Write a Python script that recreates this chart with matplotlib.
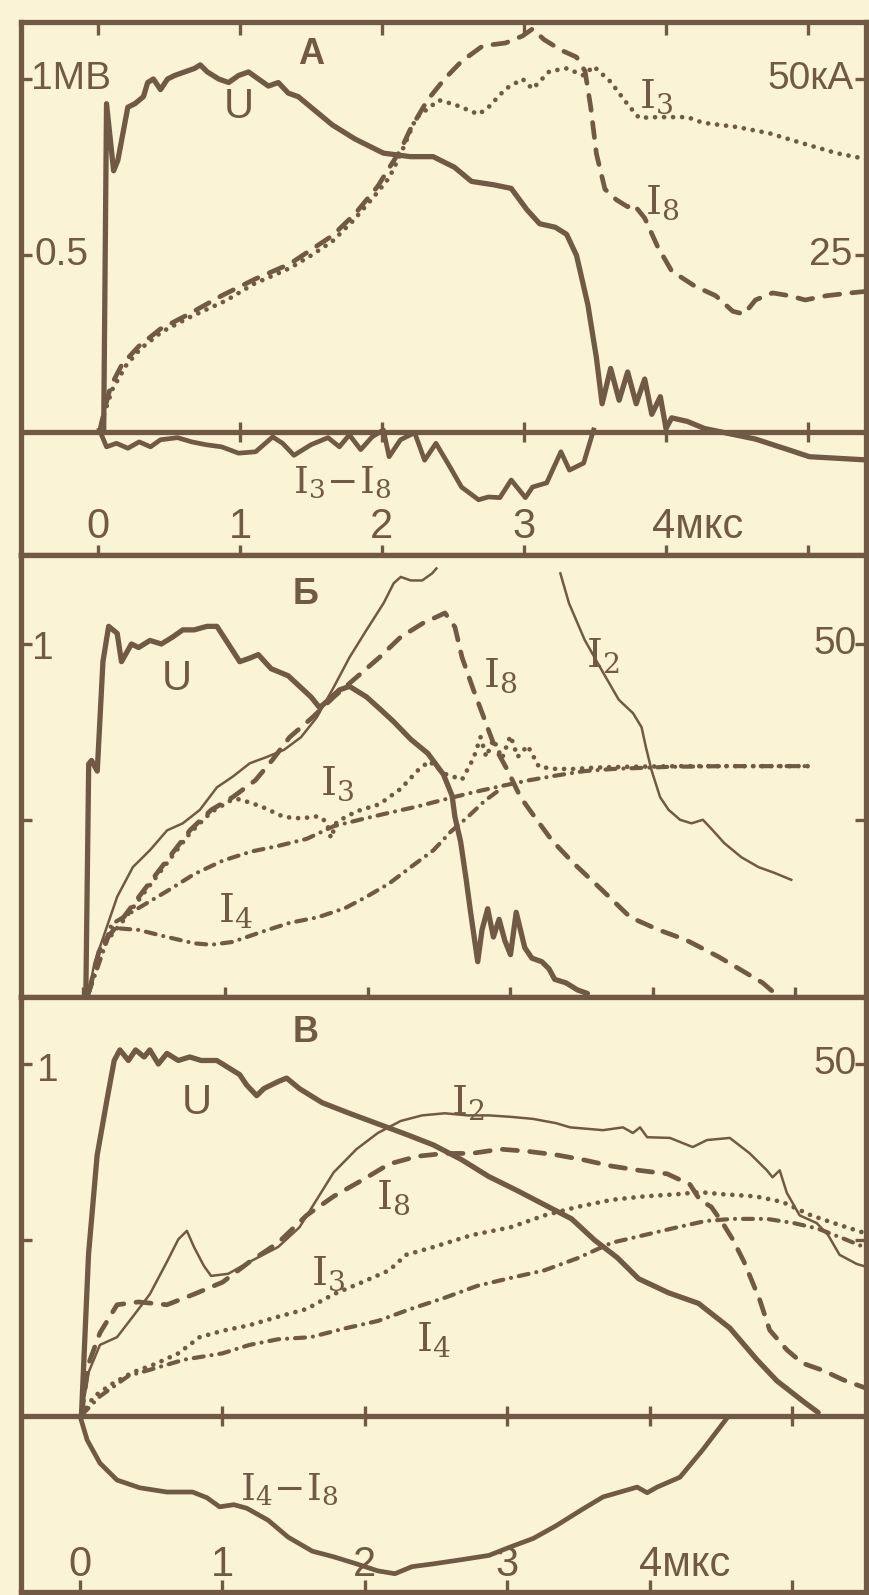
import matplotlib
matplotlib.use("Agg")
import matplotlib.pyplot as plt

INK = "#705a45"
PAPER = "#fbf3d6"
plt.rcParams["font.family"] = ["Liberation Sans", "DejaVu Sans"]
plt.rcParams["mathtext.fontset"] = "dejavuserif"

KA_PER_MV = 50.0          # right scale: 50 kA sits level with 1 MV
TICKS = [0, 1, 2, 3, 4, 5]

# ---------------------------------------------------------------- panel A
# (t, µs ; U, MV)
A_U = [(0.00, 0.00), (0.04, 0.00), (0.06, 0.93), (0.11, 0.74), (0.14, 0.77), (0.21, 0.92),
       (0.26, 0.93), (0.32, 0.95), (0.35, 0.99), (0.39, 1.00), (0.44, 0.97), (0.49, 1.00),
       (0.54, 1.01), (0.61, 1.02), (0.68, 1.03), (0.72, 1.04), (0.77, 1.02), (0.85, 1.00),
       (0.92, 0.99), (0.99, 1.01), (1.06, 1.02), (1.13, 1.00), (1.20, 0.98), (1.27, 0.99),
       (1.34, 0.96), (1.41, 0.95), (1.50, 0.92), (1.65, 0.87), (1.81, 0.83), (2.01, 0.79),
       (2.20, 0.78), (2.36, 0.78), (2.51, 0.75), (2.63, 0.71), (2.79, 0.70), (2.91, 0.69),
       (3.02, 0.63), (3.11, 0.59), (3.22, 0.58), (3.30, 0.56), (3.37, 0.50), (3.45, 0.36),
       (3.51, 0.21), (3.55, 0.08), (3.61, 0.18), (3.67, 0.09), (3.73, 0.17), (3.79, 0.08),
       (3.85, 0.15), (3.90, 0.05), (3.96, 0.10), (4.00, 0.01), (4.04, 0.04), (4.15, 0.03),
       (4.27, 0.01), (4.39, 0.00), (4.63, -0.02), (4.86, -0.05), (5.01, -0.07), (5.45, -0.08)]
# currents, kA
A_I8 = [(0.01, 0.0), (0.05, 3.5), (0.09, 6.5), (0.17, 9.6), (0.29, 12.2), (0.44, 14.6),
        (0.64, 16.7), (0.87, 19.3), (1.11, 21.7), (1.35, 23.8), (1.50, 25.8), (1.65, 27.8),
        (1.81, 30.9), (1.97, 34.8), (2.05, 37.4), (2.13, 39.9), (2.20, 42.9), (2.32, 47.0),
        (2.44, 50.0), (2.56, 52.5), (2.71, 54.7), (2.87, 55.1), (2.99, 56.1), (3.06, 57.1),
        (3.14, 55.6), (3.26, 54.1), (3.37, 53.1), (3.43, 51.1), (3.47, 46.0), (3.51, 39.4),
        (3.57, 34.4), (3.65, 32.9), (3.73, 31.9), (3.77, 32.3), (3.85, 30.3), (3.94, 26.3),
        (4.04, 22.8), (4.20, 20.7), (4.35, 19.3), (4.47, 17.1), (4.55, 16.7), (4.63, 18.7),
        (4.75, 19.7), (4.87, 19.3), (4.98, 18.7), (5.13, 19.3), (5.30, 19.7), (5.45, 20.0)]
A_I3 = [(0.01, 0.0), (0.05, 3.0), (0.10, 6.0), (0.20, 9.5), (0.30, 11.8), (0.45, 14.2),
        (0.65, 16.3), (0.90, 18.6), (1.10, 21.0), (1.35, 23.2), (1.50, 25.0), (1.65, 27.0),
        (1.80, 30.0), (1.95, 33.5), (2.05, 36.0), (2.13, 39.3), (2.24, 44.5), (2.40, 47.0),
        (2.51, 46.4), (2.68, 45.0), (2.75, 46.0), (2.87, 48.6), (2.99, 50.0), (3.06, 48.6),
        (3.18, 51.1), (3.30, 51.5), (3.42, 50.5), (3.49, 51.8), (3.61, 49.6), (3.73, 46.4),
        (3.81, 44.5), (3.94, 44.6), (4.15, 44.6), (4.26, 43.8), (4.50, 43.2), (4.73, 42.3),
        (4.96, 40.9), (5.20, 39.5), (5.45, 38.5)]
A_I3_I8 = [(0.01, 0.3), (0.06, -2.1), (0.13, -1.6), (0.21, -2.3), (0.29, -1.4), (0.37, -2.1),
           (0.44, -1.1), (0.56, -0.8), (0.66, -1.4), (0.76, -1.8), (0.87, -2.1), (0.99, -3.0),
           (1.11, -2.8), (1.23, -0.7), (1.30, -1.6), (1.38, -3.3), (1.50, -1.8), (1.62, -0.8),
           (1.70, -2.1), (1.77, -0.4), (1.85, -2.5), (1.93, -0.7), (2.01, 0.3), (2.05, -3.5),
           (2.13, -1.1), (2.23, -0.1), (2.30, -4.0), (2.38, -1.6), (2.48, -5.0), (2.56, -7.8),
           (2.68, -9.6), (2.75, -9.2), (2.83, -9.3), (2.91, -6.8), (3.01, -9.3), (3.06, -7.8),
           (3.16, -7.2), (3.26, -2.8), (3.32, -5.4), (3.42, -4.4), (3.48, -0.4), (3.49, 0.3)]

# ---------------------------------------------------------------- panel Б
B_U = [(0.02, 0.01), (0.04, 0.66), (0.06, 0.67), (0.10, 0.64), (0.14, 0.95), (0.18, 1.05),
       (0.24, 1.03), (0.27, 0.95), (0.34, 1.00), (0.39, 0.99), (0.47, 1.01), (0.55, 1.00),
       (0.63, 1.02), (0.70, 1.04), (0.78, 1.04), (0.87, 1.05), (0.94, 1.05), (1.02, 1.00),
       (1.10, 0.95), (1.17, 0.96), (1.23, 0.97), (1.32, 0.93), (1.44, 0.91), (1.52, 0.88),
       (1.60, 0.85), (1.66, 0.82), (1.72, 0.84), (1.80, 0.87), (1.87, 0.88), (1.99, 0.85),
       (2.10, 0.81), (2.18, 0.78), (2.30, 0.73), (2.42, 0.69), (2.53, 0.63), (2.59, 0.57),
       (2.61, 0.51), (2.65, 0.44), (2.69, 0.33), (2.72, 0.24), (2.77, 0.10), (2.80, 0.19),
       (2.84, 0.25), (2.88, 0.17), (2.92, 0.22), (2.96, 0.16), (3.00, 0.12), (3.04, 0.24),
       (3.10, 0.14), (3.15, 0.11), (3.22, 0.10), (3.27, 0.08), (3.31, 0.05), (3.39, 0.04),
       (3.47, 0.02), (3.54, 0.01)]
B_I2_RISE = [(0.04, 0.6), (0.08, 4.8), (0.16, 9.5), (0.24, 14.2), (0.35, 18.4), (0.47, 20.8),
             (0.59, 23.6), (0.70, 24.6), (0.82, 26.5), (0.94, 29.7), (1.05, 31.2), (1.17, 33.1),
             (1.29, 34.0), (1.41, 35.0), (1.53, 36.8), (1.64, 39.6), (1.76, 43.9), (1.87, 48.1),
             (1.99, 52.0), (2.11, 55.8), (2.18, 58.6), (2.23, 59.5), (2.30, 59.0), (2.38, 59.0),
             (2.45, 60.0), (2.48, 60.7)]
B_I2_FALL = [(3.35, 60.0), (3.41, 55.8), (3.52, 50.6), (3.64, 46.3), (3.76, 42.1), (3.86, 40.2),
             (3.92, 38.2), (3.95, 35.4), (3.99, 32.1), (4.05, 28.3), (4.11, 26.5), (4.19, 25.1),
             (4.27, 24.6), (4.35, 25.1), (4.42, 23.6), (4.50, 21.8), (4.62, 19.8), (4.74, 18.4),
             (4.85, 17.6), (4.97, 16.6)]
B_I8 = [(0.04, 0.6), (0.12, 7.1), (0.27, 10.9), (0.43, 15.2), (0.59, 19.4), (0.75, 23.6),
        (0.90, 26.5), (1.05, 28.3), (1.21, 30.7), (1.33, 33.6), (1.45, 36.8), (1.61, 39.6),
        (1.76, 42.5), (1.92, 45.3), (2.08, 48.1), (2.23, 51.0), (2.39, 53.0), (2.51, 54.1),
        (2.54, 54.4), (2.61, 52.4), (2.66, 48.1), (2.74, 43.5), (2.82, 39.2), (2.89, 35.4),
        (2.98, 32.1), (3.07, 28.3), (3.17, 25.5), (3.29, 22.2), (3.44, 19.0), (3.64, 15.2),
        (3.84, 11.3), (4.04, 9.5), (4.23, 8.1), (4.46, 5.7), (4.62, 3.8), (4.77, 2.0),
        (4.85, 0.6)]
B_I3 = [(0.04, 0.6), (0.12, 6.8), (0.27, 10.5), (0.43, 14.8), (0.59, 19.0), (0.75, 23.2),
        (0.90, 26.2), (1.05, 28.0), (1.10, 28.0), (1.25, 27.0), (1.41, 25.5), (1.53, 25.3),
        (1.65, 25.6), (1.71, 24.8), (1.74, 22.5), (1.78, 24.8), (1.92, 26.3), (2.08, 27.3),
        (2.23, 29.5), (2.35, 32.1), (2.43, 33.4), (2.54, 31.6), (2.66, 30.8), (2.74, 33.8),
        (2.79, 36.8), (2.83, 34.0), (2.88, 36.5), (2.94, 33.8), (3.00, 37.0), (3.05, 34.0),
        (3.12, 35.6), (3.20, 32.6), (3.32, 32.3), (3.45, 32.3), (3.60, 32.5), (3.80, 32.6),
        (4.20, 32.7), (4.60, 32.7), (5.11, 32.7)]
B_I4_UPPER = [(0.04, 0.6), (0.20, 10.3), (0.39, 12.6), (0.59, 15.0), (0.78, 17.4), (0.98, 19.3),
              (1.18, 20.6), (1.37, 21.4), (1.57, 22.4), (1.76, 24.2), (1.96, 25.2), (2.15, 26.1),
              (2.35, 27.0), (2.54, 28.0), (2.74, 29.0), (2.94, 29.9), (3.13, 30.7), (3.33, 31.4),
              (3.52, 32.0), (3.72, 32.3), (4.11, 32.6), (4.50, 32.7), (5.11, 32.7)]
B_I4 = [(0.04, 0.6), (0.20, 9.8), (0.39, 9.5), (0.59, 8.5), (0.78, 7.6), (0.90, 7.4),
        (1.05, 7.8), (1.25, 9.2), (1.45, 10.5), (1.65, 11.3), (1.84, 12.6), (1.99, 14.2),
        (2.15, 16.1), (2.30, 18.4), (2.46, 20.8), (2.58, 23.4), (2.70, 25.5), (2.82, 27.8),
        (2.94, 29.6)]

# ---------------------------------------------------------------- panel В
C_U = [(0.01, 0.00), (0.06, 0.46), (0.12, 0.74), (0.19, 0.90), (0.24, 1.01), (0.28, 1.04),
       (0.34, 1.01), (0.39, 1.04), (0.45, 1.02), (0.49, 1.04), (0.55, 1.00), (0.61, 1.03),
       (0.69, 1.01), (0.77, 1.02), (0.85, 1.01), (0.96, 1.01), (1.04, 0.99), (1.12, 0.97),
       (1.17, 0.94), (1.24, 0.91), (1.29, 0.93), (1.39, 0.95), (1.45, 0.96), (1.54, 0.93),
       (1.70, 0.89), (1.89, 0.86), (2.09, 0.83), (2.29, 0.80), (2.48, 0.77), (2.67, 0.73),
       (2.87, 0.68), (3.07, 0.64), (3.26, 0.60), (3.45, 0.56), (3.61, 0.50), (3.77, 0.45),
       (3.92, 0.39), (4.13, 0.35), (4.34, 0.32), (4.56, 0.25), (4.75, 0.16), (4.89, 0.10),
       (5.08, 0.04), (5.18, 0.01)]
C_I2 = [(0.01, 0.1), (0.06, 6.2), (0.14, 10.1), (0.26, 11.2), (0.37, 14.1), (0.49, 17.3),
        (0.61, 21.9), (0.69, 25.1), (0.75, 26.3), (0.80, 24.0), (0.87, 21.3), (0.92, 19.9),
        (1.04, 20.2), (1.19, 21.9), (1.39, 24.0), (1.54, 26.8), (1.66, 30.7), (1.78, 34.6),
        (1.94, 37.9), (2.09, 40.2), (2.25, 41.9), (2.40, 42.7), (2.56, 43.0), (2.72, 42.7),
        (2.87, 42.7), (3.02, 42.5), (3.18, 42.2), (3.34, 41.6), (3.44, 41.0), (3.67, 40.6),
        (3.81, 41.0), (3.88, 40.2), (3.93, 41.0), (3.98, 39.6), (4.14, 39.5), (4.30, 38.2),
        (4.40, 39.2), (4.56, 39.5), (4.70, 37.3), (4.82, 34.9), (4.86, 33.9), (4.91, 34.9),
        (4.96, 31.7), (5.05, 28.5), (5.17, 27.4), (5.25, 25.7), (5.33, 22.9), (5.45, 21.6),
        (5.55, 21.0)]
C_I8 = [(0.01, 0.1), (0.06, 7.4), (0.14, 11.8), (0.26, 15.8), (0.41, 16.2), (0.61, 15.8),
        (0.80, 17.3), (1.00, 19.0), (1.19, 21.9), (1.39, 24.6), (1.59, 28.5), (1.78, 31.2),
        (1.98, 33.5), (2.17, 35.8), (2.37, 36.9), (2.56, 37.3), (2.75, 37.3), (2.95, 37.9),
        (3.14, 37.6), (3.34, 37.1), (3.53, 36.4), (3.73, 35.5), (3.92, 34.9), (4.12, 34.4),
        (4.28, 32.9), (4.35, 30.7), (4.43, 29.7), (4.51, 27.4), (4.58, 25.1), (4.66, 21.9),
        (4.77, 16.5), (4.84, 12.2), (4.96, 9.4), (5.07, 7.5), (5.21, 6.5), (5.36, 5.1),
        (5.55, 3.7)]
C_I3 = [(0.01, 0.1), (0.10, 2.8), (0.22, 4.5), (0.37, 6.2), (0.53, 7.4), (0.69, 8.9),
        (0.84, 11.2), (1.00, 12.1), (1.19, 12.9), (1.39, 14.1), (1.59, 15.2), (1.78, 17.3),
        (1.98, 19.0), (2.17, 20.7), (2.29, 22.9), (2.48, 24.0), (2.75, 25.7), (3.02, 26.8),
        (3.26, 28.5), (3.49, 29.7), (3.73, 30.7), (3.96, 31.2), (4.19, 31.5), (4.35, 31.8),
        (4.51, 31.5), (4.74, 31.2), (4.93, 30.4), (5.13, 28.5), (5.29, 27.4), (5.55, 25.7)]
C_I4 = [(0.01, 0.1), (0.14, 2.8), (0.34, 5.7), (0.53, 6.8), (0.73, 8.0), (1.00, 8.9),
        (1.19, 10.1), (1.39, 10.9), (1.62, 11.2), (1.85, 12.4), (2.09, 13.5), (2.32, 15.2),
        (2.56, 16.8), (2.79, 18.5), (3.02, 19.6), (3.26, 20.7), (3.49, 22.4), (3.73, 24.6),
        (3.96, 25.7), (4.19, 26.8), (4.39, 27.7), (4.58, 28.0), (4.82, 28.0), (5.01, 27.4),
        (5.18, 26.6), (5.37, 25.1), (5.55, 23.6)]
C_I4_I8 = [(0.00, 0.0), (0.05, -3.4), (0.14, -6.7), (0.26, -9.1), (0.42, -10.2), (0.61, -10.8),
           (0.79, -10.8), (0.89, -11.6), (0.98, -12.9), (1.08, -12.6), (1.17, -13.1), (1.32, -14.8),
           (1.46, -17.2), (1.63, -19.2), (1.78, -20.0), (1.94, -21.0), (2.09, -22.0), (2.21, -22.4),
           (2.33, -21.4), (2.48, -21.0), (2.68, -20.4), (2.87, -19.8), (3.02, -18.6), (3.18, -17.4),
           (3.34, -15.6), (3.53, -13.2), (3.67, -11.5), (3.91, -10.1), (3.98, -10.9), (4.05, -10.1),
           (4.21, -8.7), (4.37, -4.8), (4.54, -0.3)]

# ---------------------------------------------------------------- layout
W, H = 870, 1595
# left, top, right, bottom, x of t=0, y of zero, px per µs, px per MV
GEOM_A = (21, 22, 866, 555, 98, 432, 142.0, 353.0)
GEOM_B = (21, 555, 866, 997, 83, 997, 142.5, 353.0)
GEOM_C = (21, 997, 866, 1592, 80, 1416, 142.5, 352.0)

SOLID_U = dict(color=INK, lw=3.8, solid_joinstyle="round", solid_capstyle="round")
THIN = dict(color=INK, lw=1.8, solid_joinstyle="round")
DIFF = dict(color=INK, lw=3.4, solid_joinstyle="round")
DASHED = dict(color=INK, lw=3.4, ls=(0, (3.2, 2.6)), dash_capstyle="round")
DOTTED = dict(color=INK, lw=3.4, ls=(0, (0.01, 1.9)), dash_capstyle="round")
DASHDOT = dict(color=INK, lw=3.0, ls=(0, (2.4, 1.9, 0.01, 1.9)), dash_capstyle="round")

fig = plt.figure(figsize=(W / 100, H / 100), dpi=100, facecolor=PAPER)


def xy(points):
    return [p[0] for p in points], [p[1] for p in points]


def make_panel(geom, top_ticks, bottom_dir, zero_line):
    left, top, right, bottom, x0, y0, sx, sy = geom
    ax = fig.add_axes([left / W, 1 - bottom / H, (right - left) / W, (bottom - top) / H])
    ax.set_facecolor(PAPER)
    ax.set_xlim((left - x0) / sx, (right - x0) / sx)
    ax.set_ylim((y0 - bottom) / sy, (y0 - top) / sy)
    for sp in ax.spines.values():
        sp.set_color(INK)
        sp.set_linewidth(3.8)
    ax.set_xticks([])
    ax.set_yticks([0.5, 1.0])
    ax.tick_params(axis="y", direction="in", length=8, width=2.4, color=INK,
                   labelleft=False)
    tw = ax.twinx()
    lo, hi = ax.get_ylim()
    tw.set_ylim(lo * KA_PER_MV, hi * KA_PER_MV)
    tw.set_yticks([25, 50])
    tw.tick_params(axis="y", direction="in", length=8, width=2.4, color=INK,
                   labelright=False)
    for sp in tw.spines.values():
        sp.set_visible(False)

    xt = ax.get_xaxis_transform()
    tk = dict(ls="none", color=INK, mew=2.4, clip_on=False)
    if top_ticks:
        ax.plot(TICKS, [1] * len(TICKS), marker=3, ms=9, transform=xt, **tk)
    ax.plot(TICKS, [0] * len(TICKS), marker=bottom_dir, ms=9 if bottom_dir == 2 else 15,
            transform=xt, **tk)
    if zero_line:
        ax.axhline(0, color=INK, lw=3.8)
        ax.plot(TICKS[1:], [0] * 5, marker="|", ms=15, **tk)
    return ax, tw


def txt(a, x, y, s, size=28, **kw):
    kw.setdefault("ha", "center")
    kw.setdefault("va", "center")
    a.text(x, y, s, fontsize=size, color=INK, **kw)


def ilabel(a, x, y, s, size=29):
    a.text(x, y, s, fontsize=size, color=INK, ha="center", va="center")


# ---------------------------------------------------------------- A
ax, tw = make_panel(GEOM_A, True, "|", True)
tw.plot(*xy(A_I3), **DOTTED)
tw.plot(*xy(A_I8), **DASHED)
tw.plot(*xy(A_I3_I8), **DIFF)
ax.plot(*xy(A_U), **SOLID_U)
txt(ax, 1.50, 1.07, "А", size=26, weight="bold")
txt(ax, 0.99, 0.92, "U", size=30)
txt(ax, -0.47, 1.0, "1МВ", ha="left")
txt(ax, -0.45, 0.5, "0.5", ha="left")
txt(tw, 5.32, 50, "50кА", ha="right")
txt(tw, 5.31, 25, "25", ha="right")
ilabel(tw, 3.93, 47.5, r"$\mathrm{I}_3$")
ilabel(tw, 3.97, 32.5, r"$\mathrm{I}_8$")
ilabel(tw, 1.72, -7.2, r"$\mathrm{I}_3\!-\!\mathrm{I}_8$", size=27)
for t in TICKS[:4]:
    txt(ax, t, -0.268, str(t), size=30)
txt(ax, 3.90, -0.268, "4мкс", size=30, ha="left")

# ---------------------------------------------------------------- Б
ax, tw = make_panel(GEOM_B, False, "|", False)
tw.plot(*xy(B_I2_RISE), **THIN)
tw.plot(*xy(B_I2_FALL), **THIN)
tw.plot(*xy(B_I4_UPPER), **DASHDOT)
tw.plot(*xy(B_I4), **DASHDOT)
tw.plot(*xy(B_I3), **DOTTED)
tw.plot(*xy(B_I8), **DASHED)
ax.plot(*xy(B_U), **SOLID_U)
txt(ax, 1.56, 1.14, "Б", size=26, weight="bold")
txt(ax, 0.66, 0.90, "U", size=30)
txt(ax, -0.36, 0.985, "1", ha="left")
txt(tw, 5.43, 50, "50", ha="right")
ilabel(tw, 2.93, 45.5, r"$\mathrm{I}_8$")
ilabel(tw, 3.65, 48.4, r"$\mathrm{I}_2$")
ilabel(tw, 1.78, 30.2, r"$\mathrm{I}_3$")
ilabel(tw, 1.07, 12.3, r"$\mathrm{I}_4$")

# ---------------------------------------------------------------- В
ax, tw = make_panel(GEOM_C, False, 2, True)
tw.plot(*xy(C_I2), **THIN)
tw.plot(*xy(C_I3), **DOTTED)
tw.plot(*xy(C_I4), **DASHDOT)
tw.plot(*xy(C_I8), **DASHED)
tw.plot(*xy(C_I4_I8), **DIFF)
ax.plot(*xy(C_U), **SOLID_U)
txt(ax, 1.58, 1.09, "В", size=26, weight="bold")
txt(ax, 0.82, 0.89, "U", size=30)
txt(ax, -0.30, 0.98, "1", ha="left")
txt(tw, 5.45, 50, "50", ha="right")
ilabel(tw, 2.72, 44.6, r"$\mathrm{I}_2$")
ilabel(tw, 2.20, 31.0, r"$\mathrm{I}_8$")
ilabel(tw, 1.74, 20.2, r"$\mathrm{I}_3$")
ilabel(tw, 2.48, 10.9, r"$\mathrm{I}_4$")
ilabel(tw, 1.47, -10.5, r"$\mathrm{I}_4\!-\!\mathrm{I}_8$", size=27)
for t in TICKS[:4]:
    txt(ax, t, -0.423, str(t), size=30)
txt(ax, 3.92, -0.423, "4мкс", size=30, ha="left")

fig.savefig("out.png", dpi=100, facecolor=PAPER)
